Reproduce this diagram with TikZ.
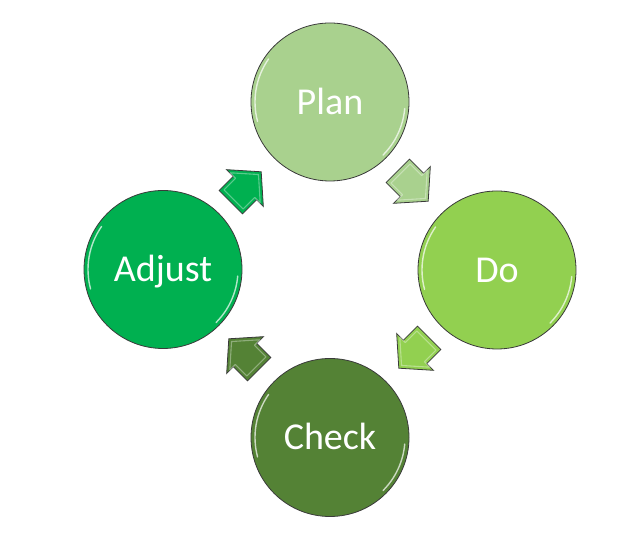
\documentclass[tikz,border=0pt]{standalone}
\usepackage{fontspec}
\setmainfont{Carlito}
\definecolor{cplan}{HTML}{A9D18E}
\definecolor{cdo}{HTML}{92D050}
\definecolor{ccheck}{HTML}{548235}
\definecolor{cadjust}{HTML}{00B050}
\definecolor{edgegray}{HTML}{3A3A3A}
\newcommand\phasearrow[3]{%
  \begin{scope}[shift={#1}, rotate=#2]
    \filldraw[blockarrow, fill=#3] (-21.5,-16.5) -- (-1.5,-16.5) -- (-1.5,-26) -- (21.5,0) -- (-1.5,26) -- (-1.5,16.5) -- (-21.5,16.5) -- cycle;
    \begin{scope}[scale=0.82]
      \draw[arrowgloss] (-21.5,-16.5) -- (-1.5,-16.5) -- (-1.5,-26) -- (21.5,0) -- (-1.5,26) -- (-1.5,16.5) -- (-21.5,16.5) -- cycle;
    \end{scope}
  \end{scope}}
\begin{document}
\begin{tikzpicture}[x=1pt,y=1pt,
  phase/.style={circle, minimum size=158pt, inner sep=0pt, draw=edgegray, line width=0.8pt,
    text=white, font=\fontsize{38}{44}\selectfont, text height=24.5pt, text depth=0pt},
  blockarrow/.style={draw=edgegray, line width=0.8pt, line join=miter},
  arrowgloss/.style={white, opacity=0.35, line width=1.1pt, line join=round},
  gloss/.style={white, opacity=0.7, line width=1.4pt, line cap=round}]
\useasboundingbox (0,0) rectangle (642,545);
\node[phase, fill=cplan]   (plan)   at (330,443)   {Plan};
\node[phase, fill=cdo]     (do)     at (497,275)   {Do};
\node[phase, fill=ccheck]  (check)  at (330,107.5) {Check};
\node[phase, fill=cadjust] (adjust) at (163,275.5) {Adjust};
\foreach \n in {plan,do,check,adjust}{
  \draw[gloss] (\n.center) ++(145:75) arc[start angle=145, end angle=195, radius=75];
  \draw[gloss] (\n.center) ++(-5:75) arc[start angle=-5, end angle=-45, radius=75];
}
\phasearrow{(246,358)}{45}{cadjust}
\phasearrow{(413,359)}{-45}{cplan}
\phasearrow{(414,192)}{-135}{cdo}
\phasearrow{(244,191)}{135}{ccheck}
\end{tikzpicture}
\end{document}
